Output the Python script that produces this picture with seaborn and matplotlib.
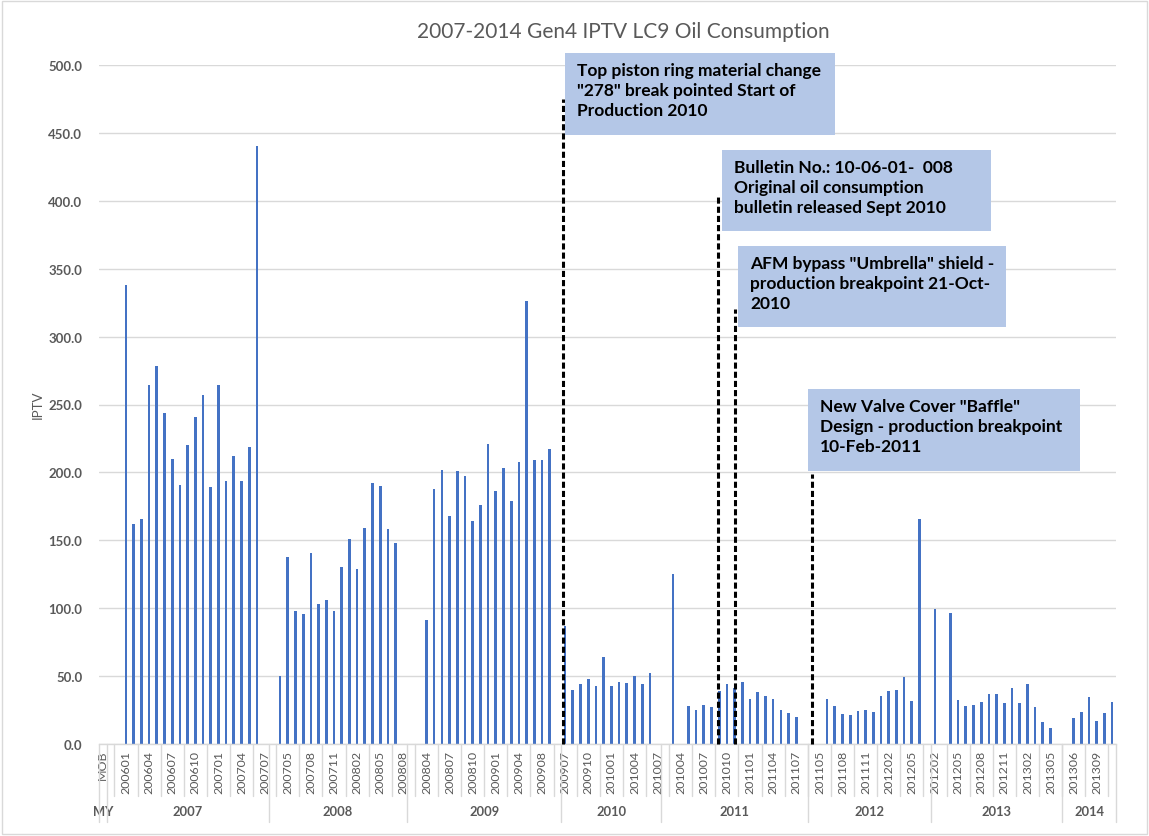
import numpy as np
import pandas as pd
import matplotlib
matplotlib.use("Agg")
import matplotlib.pyplot as plt
import seaborn as sns
from matplotlib.patches import Rectangle
from matplotlib.lines import Line2D

# ---------------- data ----------------
model_years = ["MY", "2007", "2008", "2009", "2010", "2011", "2012", "2013", "2014"]

mob_MY = ["MOB"]
mob_2007 = ["200511", "200512", "200601", "200602", "200603", "200604", "200605", "200606",
            "200607", "200608", "200609", "200610", "200611", "200612", "200701", "200702",
            "200703", "200704", "200705", "200706", "200707"]
mob_2008 = ["200703", "200704", "200705", "200706", "200707", "200708", "200709", "200710",
            "200711", "200712", "200801", "200802", "200803", "200804", "200805", "200806",
            "200807", "200808"]
mob_2009 = ["200802", "200803", "200804", "200805", "200806", "200807", "200808", "200809",
            "200810", "200811", "200812", "200901", "200902", "200903", "200904", "200905",
            "200906", "200908", "200909", "200910"]
mob_2010 = ["200907", "200908", "200909", "200910", "200911", "200912", "201001", "201002",
            "201003", "201004", "201005", "201006", "201007"]
mob_2011 = ["201002", "201003", "201004", "201005", "201006", "201007", "201008", "201009",
            "201010", "201011", "201012", "201101", "201102", "201103", "201104", "201105",
            "201106", "201107", "201108"]
mob_2012 = ["201104", "201105", "201106", "201107", "201108", "201109", "201110", "201111",
            "201112", "201201", "201202", "201203", "201204", "201205", "201206", "201207"]
mob_2013 = ["201202", "201203", "201204", "201205", "201206", "201207", "201208", "201209",
            "201210", "201211", "201212", "201301", "201302", "201303", "201304", "201305",
            "201306"]
mob_2014 = ["201305", "201306", "201307", "201308", "201309", "201310", "201311"]

iptv_MY = [None]
iptv_2007 = [None, None, 338, 162, 166, 264, 278, 244, 210, 191, 220, 241, 257, 189, 264,
             194, 212, 194, 219, 440, None]
iptv_2008 = [None, 50, 138, 98, 96, 141, 103, 106, 98, 130, 151, 129, 159, 192, 190, 158,
             148, None]
iptv_2009 = [None, None, 91, 188, 202, 168, 201, 197, 164, 176, 221, 186, 203, 179, 208,
             326, 209, 209, 217, None]
iptv_2010 = [87, 40, 44, 48, 43, 64, 43, 46, 45, 50, 44, 52, None]
iptv_2011 = [None, 125, None, 28, 25, 29, 27, 39, 44, 41, 46, 33, 38, 35, 33, 25, 23, 20,
             None]
iptv_2012 = [None, None, 33, 28, 22, 21.5, 24, 25, 23.5, 35.5, 39, 40, 49, 32, 166, None]
iptv_2013 = [99.5, None, 96.6, 32.5, 28, 29, 31, 37, 37, 30, 41, 30, 44, 27, 16, 12, None]
iptv_2014 = [None, 19, 23.5, 34.5, 17, 22.5, 31]

mob_lists = [mob_MY, mob_2007, mob_2008, mob_2009, mob_2010, mob_2011, mob_2012, mob_2013, mob_2014]
iptv_lists = [iptv_MY, iptv_2007, iptv_2008, iptv_2009, iptv_2010, iptv_2011, iptv_2012, iptv_2013, iptv_2014]

y_ticks = [0, 50, 100, 150, 200, 250, 300, 350, 400, 450, 500]

annotations = [
    "Top piston ring material change\n\"278\" break pointed Start of\nProduction 2010",
    "Bulletin No.: 10-06-01-  008\nOriginal oil consumption\nbulletin released Sept 2010",
    "AFM bypass \"Umbrella\" shield -\nproduction breakpoint 21-Oct-\n2010",
    "New Valve Cover \"Baffle\"\nDesign - production breakpoint\n10-Feb-2011",
]

# ---------------- build table ----------------
rows = []
for my, mobs, vals in zip(model_years, mob_lists, iptv_lists):
    for m, v in zip(mobs, vals):
        rows.append({"MY": my, "MOB": m, "key": f"{my}|{m}", "IPTV": v})
df = pd.DataFrame(rows)
keys = df["key"].tolist()
n = len(keys)
plot_df = df.dropna(subset=["IPTV"]).copy()
plot_df["IPTV"] = plot_df["IPTV"].astype(float)

# ---------------- figure ----------------
sns.set_style("white")
plt.rcParams["font.family"] = ["Lato", "DejaVu Sans"]

W, H = 1149, 837
fig = plt.figure(figsize=(W / 100, H / 100), dpi=100)
def fx(px): return px / W
def fy(py): return 1 - py / H

ax_left, ax_right, ax_top, ax_bottom = 99, 1116, 66, 745
ax = fig.add_axes([fx(ax_left), fy(ax_bottom), fx(ax_right - ax_left), (ax_bottom - ax_top) / H])

grey_txt = "#595959"
grid_c = "#d9d9d9"

sns.barplot(data=plot_df, x="key", y="IPTV", order=keys, color="#4472C4", saturation=1,
            width=0.35, errorbar=None, linewidth=0, ax=ax, zorder=2)

ax.set_xlim(-0.5, n - 0.5)
ax.set_ylim(0, 500)
ax.set_yticks(y_ticks)
ax.set_yticklabels([f"{t:.1f}" for t in y_ticks], fontsize=9.5, fontweight="bold", color=grey_txt)
ax.tick_params(axis="y", length=0, pad=12)
ax.yaxis.grid(True, color=grid_c, lw=1)
ax.set_axisbelow(True)
ax.set_xlabel("")
ax.set_ylabel("")
for s in ["top", "right", "left"]:
    ax.spines[s].set_visible(False)
ax.spines["bottom"].set_color(grid_c)
ax.spines["bottom"].set_linewidth(1)
ax.set_xticks(np.arange(-0.5, n, 1))
ax.set_xticklabels([])
ax.tick_params(axis="x", length=4, color=grid_c, width=1)

# ---------------- multi-level category axis ----------------
trans = matplotlib.transforms.blended_transform_factory(ax.transData, fig.transFigure)
for k in range(0, n, 3):
    ax.text(k, fy(751), df["MOB"].iloc[k], rotation=90, ha="center", va="top",
            fontsize=8.9, color=grey_txt, transform=trans, clip_on=False)
for b in np.arange(1.5, n - 1, 3):
    fig.add_artist(Line2D([b, b], [fy(745), fy(797)], transform=trans, color=grid_c, lw=1))
start = 0
bounds = [-0.5]
for my, mobs in zip(model_years, mob_lists):
    end = start + len(mobs)
    center = (start + end - 1) / 2
    ax.text(center, fy(812), my, ha="center", va="center", fontsize=9.3, fontweight="bold",
            color=grey_txt, transform=trans, clip_on=False)
    bounds.append(end - 0.5)
    start = end
for b in bounds:
    fig.add_artist(Line2D([b, b], [fy(745), fy(823)], transform=trans, color=grid_c, lw=1))

# ---------------- dashed event lines ----------------
event_x = [59.75, 79.9, 82.1, 92.0]
event_top = [475, 403, 320, 199]
for x, t in zip(event_x, event_top):
    ax.plot([x, x], [0, t], color="black", lw=2.2, ls=(0, (2, 1)), zorder=3, clip_on=False)

# ---------------- annotation boxes ----------------
boxes = [(565, 54, 835, 136), (722, 151, 991, 232), (738, 247, 1006, 328), (808, 390, 1080, 472)]
for (x0, y0, x1, y1), txt in zip(boxes, annotations):
    fig.add_artist(Rectangle((fx(x0), fy(y1)), fx(x1 - x0), (y1 - y0) / H,
                             transform=fig.transFigure, facecolor="#b4c7e7",
                             edgecolor="none", zorder=5))
    fig.text(fx(x0 + 12), fy(y0 + 9), txt, ha="left", va="top", fontsize=12.5,
             fontweight="bold", color="black", linespacing=1.3, zorder=6)

# ---------------- titles ----------------
fig.text(fx(623), fy(32), "2007-2014 Gen4 IPTV LC9 Oil Consumption", ha="center", va="center",
         fontsize=15, color=grey_txt)
fig.text(fx(38), fy(405), "IPTV", rotation=90, ha="center", va="center", fontsize=9.5,
         color=grey_txt)

# chart border
fig.add_artist(Rectangle((fx(2), fy(835)), fx(1145), 833 / H, transform=fig.transFigure,
                         facecolor="none", edgecolor=grid_c, lw=1))

fig.savefig("out.png", dpi=100)
